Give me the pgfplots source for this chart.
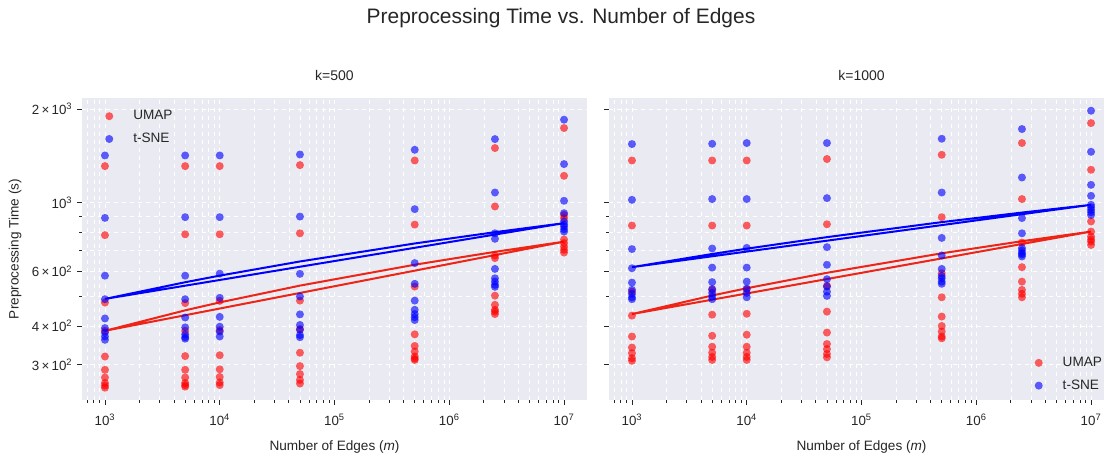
\documentclass[border=0pt]{standalone}
\usepackage{fontspec}
\setmainfont{Liberation Sans}
\usepackage{pgfplots}
\pgfplotsset{compat=1.18}

\definecolor{bgc}{HTML}{EAEAF2}
\definecolor{txt}{HTML}{262626}
\definecolor{umap}{HTML}{FF0000}
\definecolor{tsne}{HTML}{0000FF}
\definecolor{umapline}{HTML}{EE2416}

\pgfplotsset{
  every axis/.append style={
    scale only axis, width=378.75pt, height=226.5pt, anchor=south west,
    xmin=631, xmax=15848932, ymin=231, ymax=2172,
    axis background/.style={fill=bgc},
    axis line style={draw=none},
    tick align=outside, tick pos=left,
    major tick length=3.75pt, minor tick length=2.25pt,
    every tick/.style={txt, line width=0.6pt},
    grid=both,
    major grid style={white, dashed, line width=0.6pt},
    minor grid style={white, dashed, line width=0.45pt},
    xtick={1000,10000,100000,1000000,10000000},
    xticklabels={10\textsuperscript{3},10\textsuperscript{4},10\textsuperscript{5},10\textsuperscript{6},10\textsuperscript{7}},
    minor xtick={700,800,900,2000,3000,4000,5000,6000,7000,8000,9000,
      20000,30000,40000,50000,60000,70000,80000,90000,
      200000,300000,400000,500000,600000,700000,800000,900000,
      2e6,3e6,4e6,5e6,6e6,7e6,8e6,9e6},
    ytick={300,400,600,1000,2000},
    minor ytick={500,700,800,900},
    ticklabel style={font=\fontsize{10}{12}\selectfont, text=txt},
    xticklabel style={yshift=-3.5pt},
    xlabel={Number of Edges (\textit{m})},
    xlabel style={at={(axis description cs:0.5,-0.1556)}, anchor=center,
      font=\fontsize{10.2}{12}\selectfont, text=txt},
    title style={at={(axis description cs:0.5,1.0464)}, anchor=center,
      font=\fontsize{10.5}{12}\selectfont, text=txt},
    legend style={draw=none, fill=none, font=\fontsize{10.2}{12}\selectfont,
      text=txt, row sep=4.5pt, column sep=13pt},
    legend cell align=left,
  },
  umapdots/.style={only marks, mark=*, mark size=3pt, color=umap,
    mark options={draw opacity=0, fill opacity=0.62}},
  tsnedots/.style={only marks, mark=*, mark size=3pt, color=tsne,
    mark options={draw opacity=0, fill opacity=0.62}},
}

\begin{document}
\begin{tikzpicture}

% k=500
\begin{loglogaxis}[at={(61.5pt,42.75pt)},
    title={k=500},
    yticklabels={3\,×\,10\textsuperscript{2},4\,×\,10\textsuperscript{2},6\,×\,10\textsuperscript{2},10\textsuperscript{3},2\,×\,10\textsuperscript{3}},
    ylabel={Preprocessing Time (s)},
    ylabel style={at={(axis description cs:-0.1327,0.5)}, anchor=center,
      font=\fontsize{10.2}{12}\selectfont, text=txt},
    legend style={at={(axis description cs:0.0376,0.977)}, anchor=north west}]
\addplot[umapdots] coordinates {
  (1000,1310) (1000,785) (1000,476) (1000,386) (1000,319) (1000,289) (1000,273) (1000,262) (1000,257) (1000,253)
  (5000,1310) (5000,790) (5000,474) (5000,386) (5000,320) (5000,289) (5000,273) (5000,262) (5000,258) (5000,255)
  (10000,1310) (10000,790) (10000,482) (10000,388) (10000,322) (10000,290) (10000,274) (10000,263) (10000,258)
  (50000,1320) (50000,796) (50000,483) (50000,391) (50000,328) (50000,297) (50000,280) (50000,268) (50000,261)
  (500000,1366) (500000,849) (500000,536) (500000,376) (500000,345) (500000,331) (500000,319) (500000,314) (500000,311)
  (2500000,1498) (2500000,971) (2500000,675) (2500000,662) (2500000,501) (2500000,468) (2500000,451) (2500000,445) (2500000,437)
  (10000000,1738) (10000000,1219) (10000000,912) (10000000,890) (10000000,760) (10000000,740) (10000000,721) (10000000,704) (10000000,690)
};
\addlegendentry{UMAP}
\addplot[tsnedots] coordinates {
  (1000,1418) (1000,892) (1000,581) (1000,488) (1000,423) (1000,394) (1000,381) (1000,370) (1000,361)
  (5000,1418) (5000,897) (5000,581) (5000,488) (5000,426) (5000,396) (5000,376) (5000,368) (5000,364)
  (10000,1418) (10000,897) (10000,590) (10000,493) (10000,428) (10000,398) (10000,384) (10000,370)
  (50000,1428) (50000,901) (50000,589) (50000,498) (50000,436) (50000,403) (50000,389) (50000,374) (50000,368)
  (500000,1479) (500000,952) (500000,638) (500000,547) (500000,483) (500000,451) (500000,437) (500000,427) (500000,418)
  (2500000,1601) (2500000,1077) (2500000,796) (2500000,764) (2500000,611) (2500000,570) (2500000,556) (2500000,543) (2500000,535)
  (10000000,1849) (10000000,1330) (10000000,1013) (10000000,924) (10000000,869) (10000000,850) (10000000,837) (10000000,820) (10000000,806)
};
\addlegendentry{t-SNE}
% fitted lines (drawn in data order, so the return to the first point shows)
\addplot[umapline, line width=1.5pt, forget plot] coordinates {
  (1000,386) (5000,449.3) (10000,476.5) (50000,539.8) (500000,630.3) (2500000,693.5) (10000000,748) (1000,386)
};
\addplot[tsne, line width=1.5pt, forget plot] coordinates {
  (1000,489) (5000,553.5) (10000,581.3) (50000,645.7) (500000,738) (2500000,802.5) (10000000,858) (1000,489)
};
\end{loglogaxis}

% k=1000
\begin{loglogaxis}[at={(456.75pt,42.75pt)},
    title={k=1000},
    yticklabels={},
    legend style={at={(axis description cs:0.99,0.01)}, anchor=south east}]
\addplot[umapdots] coordinates {
  (1000,1366) (1000,843) (1000,516) (1000,432) (1000,370) (1000,341) (1000,327) (1000,315) (1000,309)
  (5000,1366) (5000,843) (5000,523) (5000,435) (5000,372) (5000,343) (5000,328) (5000,318) (5000,311)
  (10000,1366) (10000,843) (10000,525) (10000,438) (10000,375) (10000,343) (10000,328) (10000,318) (10000,311)
  (50000,1381) (50000,851) (50000,539) (50000,445) (50000,381) (50000,350) (50000,337) (50000,325) (50000,317)
  (500000,1425) (500000,897) (500000,592) (500000,495) (500000,429) (500000,400) (500000,384) (500000,370) (500000,365)
  (2500000,1555) (2500000,1026) (2500000,743) (2500000,619) (2500000,556) (2500000,523) (2500000,508) (2500000,495)
  (10000000,1803) (10000000,1275) (10000000,869) (10000000,806) (10000000,777) (10000000,760) (10000000,748) (10000000,730)
};
\addlegendentry{UMAP}
\addplot[tsnedots] coordinates {
  (1000,1543) (1000,1020) (1000,708) (1000,614) (1000,552) (1000,523) (1000,508) (1000,495) (1000,488)
  (5000,1546) (5000,1026) (5000,711) (5000,617) (5000,554) (5000,526) (5000,511) (5000,498) (5000,488)
  (10000,1555) (10000,1026) (10000,714) (10000,617) (10000,556) (10000,528) (10000,511) (10000,495)
  (50000,1555) (50000,1033) (50000,718) (50000,630) (50000,566) (50000,536) (50000,516) (50000,500)
  (500000,1605) (500000,1077) (500000,769) (500000,675) (500000,611) (500000,580) (500000,570) (500000,556) (500000,547)
  (2500000,1725) (2500000,1204) (2500000,891) (2500000,796) (2500000,713) (2500000,700) (2500000,687) (2500000,680) (2500000,670)
  (10000000,1976) (10000000,1457) (10000000,1140) (10000000,1051) (10000000,983) (10000000,965) (10000000,947) (10000000,930) (10000000,912)
};
\addlegendentry{t-SNE}
\addplot[umapline, line width=1.5pt, forget plot] coordinates {
  (1000,437) (5000,501.5) (10000,529.3) (50000,593.7) (500000,686) (2500000,750.5) (10000000,806) (1000,437)
};
\addplot[tsne, line width=1.5pt, forget plot] coordinates {
  (1000,619) (5000,682.6) (10000,710) (50000,773.6) (500000,864.6) (2500000,928.2) (10000000,983) (1000,619)
};
\end{loglogaxis}

\node[font=\fontsize{15.7}{18}\selectfont, text=txt] at (420.75pt,329.25pt)
  {Preprocessing Time vs. Number of Edges};

\pgfresetboundingbox
\useasboundingbox (0,0) rectangle (828pt,342.75pt);
\end{tikzpicture}
\end{document}
